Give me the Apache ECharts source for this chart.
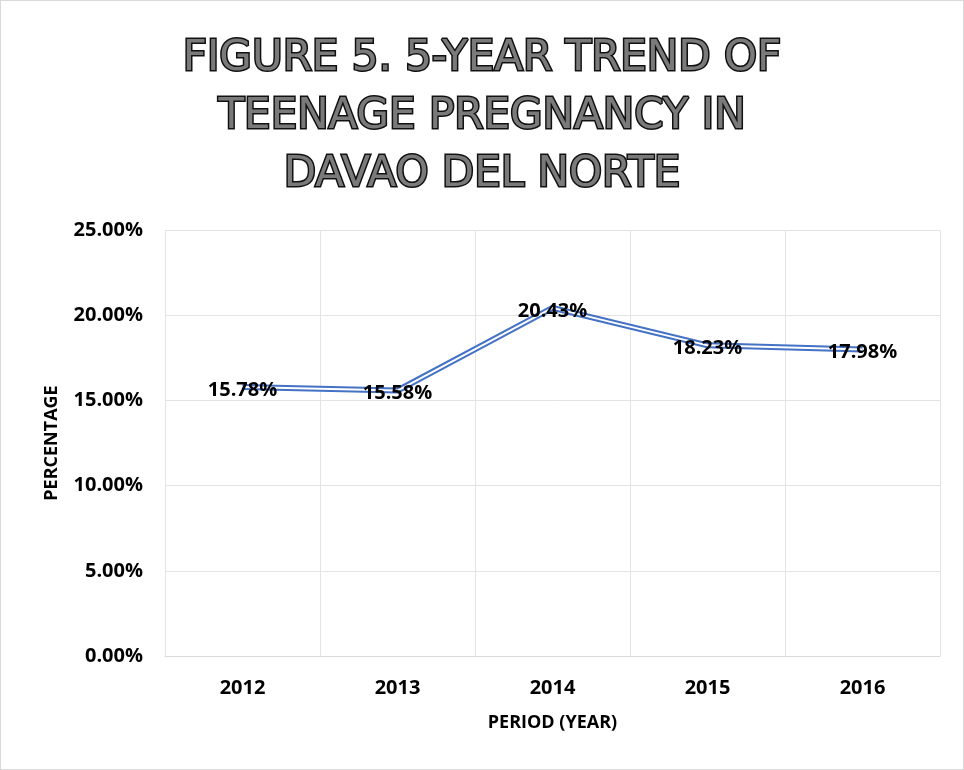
<!DOCTYPE html>
<html>
<head>
<meta charset="utf-8">
<script src="https://cdn.jsdelivr.net/npm/echarts@6/dist/echarts.min.js"></script>
<style>
  html, body { margin: 0; padding: 0; background: #fff; }
  #chart { width: 962px; height: 768px; border: 1px solid #d9d9d9; }
</style>
</head>
<body>
<div id="chart"></div>
<script>
// 数据
const years = ['2012', '2013', '2014', '2015', '2016']
const rates = [15.78, 15.58, 20.43, 18.23, 17.98]
const titleLines = ['FIGURE 5. 5-YEAR TREND OF', 'TEENAGE PREGNANCY IN', 'DAVAO DEL NORTE']

const chart = echarts.init(document.getElementById('chart'))
const labelFont = { fontFamily: 'Open Sans', fontWeight: 'bold', fontSize: 20, color: '#000' }

chart.setOption({
    title: {
        text: titleLines.join('\n'),
        left: 'center',
        top: 24,
        textStyle: {
            fontFamily: 'DejaVu Sans',
            fontWeight: 'normal',
            fontSize: 42,
            lineHeight: 58,
            color: '#7a7a7a',
            textBorderColor: '#111',
            textBorderWidth: 3
        }
    },
    grid: {
        left: 164,
        right: 23,
        top: 229,
        bottom: 113
    },
    xAxis: {
        type: 'category',
        data: years,
        boundaryGap: true,
        name: 'PERIOD (YEAR)',
        nameLocation: 'middle',
        nameGap: 58,
        nameTextStyle: Object.assign({}, labelFont, { fontSize: 18 }),
        axisLine: { lineStyle: { color: '#d9d9d9', width: 1 } },
        axisTick: { show: false },
        axisLabel: Object.assign({ margin: 22 }, labelFont),
        splitLine: { show: true, lineStyle: { color: '#e3e3e3', width: 1 } }
    },
    yAxis: {
        type: 'value',
        min: 0,
        max: 25,
        interval: 5,
        name: 'PERCENTAGE',
        nameLocation: 'middle',
        nameGap: 104,
        nameRotate: 90,
        nameTextStyle: Object.assign({}, labelFont, { fontSize: 18 }),
        axisLine: { show: false },
        axisTick: { show: false },
        axisLabel: Object.assign({ margin: 22, formatter: (v) => v.toFixed(2) + '%' }, labelFont),
        splitLine: { lineStyle: { color: '#e3e3e3', width: 1 } }
    },
    series: [
        {
            // 外层蓝线
            type: 'line',
            data: rates,
            symbol: 'none',
            lineStyle: { color: '#4472c4', width: 6 },
            z: 2
        },
        {
            // 内层白线，形成双线效果
            type: 'line',
            data: rates,
            symbol: 'circle',
            symbolSize: 0,
            lineStyle: { color: '#fff', width: 2 },
            label: {
                show: true,
                position: 'inside',
                offset: [0, 3],
                formatter: (p) => p.value.toFixed(2) + '%',
                ...labelFont
            },
            z: 3
        }
    ]
})
</script>
</body>
</html>
